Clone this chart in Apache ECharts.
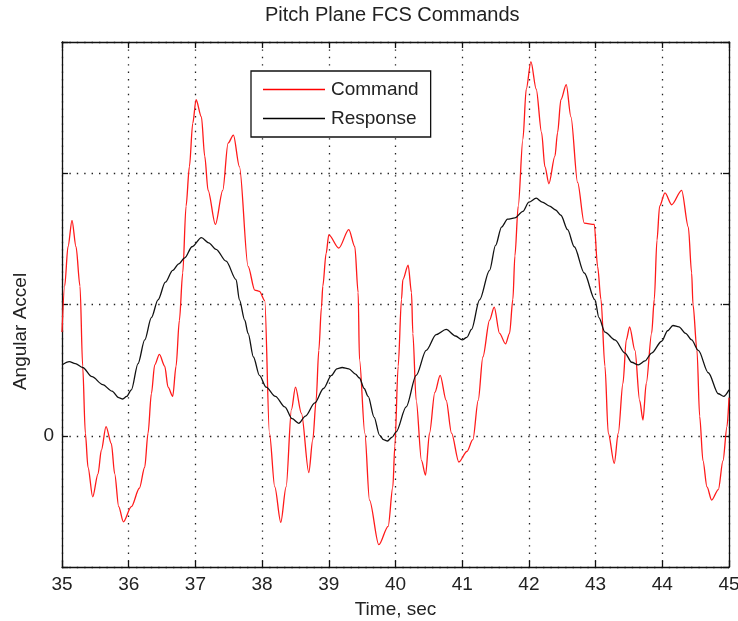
<!DOCTYPE html>
<html>
<head>
<meta charset="utf-8">
<title>Pitch Plane FCS Commands</title>
<script src="https://cdn.jsdelivr.net/npm/echarts@6/dist/echarts.min.js"></script>
<style>
  html, body { margin: 0; padding: 0; background: #fff; }
  #chart { width: 738px; height: 621px; }
</style>
</head>
<body>
<div id="chart"></div>
<script>
// Time ticks (seconds) and the only labelled level on the vertical axis
const xTicks = [35, 36, 37, 38, 39, 40, 41, 42, 43, 44, 45];
const yRange = [-1, 3];
const yLabelled = [0];

// Command signal: sample times and values
const cmdTime = [
  35.00, 35.04, 35.09, 35.15, 35.21, 35.27, 35.31, 35.35, 35.39, 35.46,
  35.54, 35.59, 35.66, 35.74, 35.79, 35.85, 35.92, 36.04, 36.16, 36.24,
  36.29, 36.34, 36.39, 36.46, 36.54, 36.59, 36.66, 36.71, 36.76, 36.81,
  36.86, 36.91, 36.96, 37.01, 37.09, 37.14, 37.19, 37.30, 37.41, 37.49,
  37.57, 37.66, 37.79, 37.89, 37.96, 38.04, 38.11, 38.19, 38.28, 38.36,
  38.44, 38.50, 38.59, 38.70, 38.76, 38.81, 38.85, 38.89, 38.91, 38.96,
  39.00, 39.15, 39.30, 39.39, 39.44, 39.46, 39.54, 39.61, 39.75, 39.89,
  39.96, 39.99, 40.04, 40.09, 40.11, 40.19, 40.24, 40.26, 40.31, 40.39,
  40.45, 40.51, 40.59, 40.67, 40.76, 40.84, 40.95, 41.07, 41.16, 41.24,
  41.31, 41.41, 41.48, 41.56, 41.65, 41.71, 41.76, 41.79, 41.84, 41.91,
  41.96, 42.03, 42.11, 42.19, 42.24, 42.30, 42.39, 42.43, 42.48, 42.56,
  42.63, 42.73, 42.83, 42.98, 43.03, 43.08, 43.14, 43.19, 43.28, 43.34,
  43.41, 43.46, 43.51, 43.59, 43.66, 43.71, 43.76, 43.84, 43.88, 43.92,
  43.96, 44.04, 44.14, 44.29, 44.39, 44.44, 44.46, 44.52, 44.56, 44.61,
  44.67, 44.74, 44.84, 44.91, 44.97, 45.00
];
const cmdValue = [
  0.79, 1.14, 1.44, 1.64, 1.44, 1.14, 0.53, 0.02, -0.24, -0.465,
  -0.29, -0.11, 0.07, -0.06, -0.29, -0.54, -0.656, -0.54, -0.40, -0.24,
  0.02, 0.32, 0.54, 0.62, 0.53, 0.37, 0.30, 0.53, 0.88, 1.24,
  1.75, 2.05, 2.38, 2.56, 2.43, 2.13, 1.87, 1.61, 1.87, 2.23,
  2.29, 2.05, 1.29, 1.11, 1.10, 1.03, 0.02, -0.39, -0.66, -0.39,
  0.20, 0.37, 0.17, -0.28, -0.03, 0.27, 0.65, 0.98, 1.14, 1.39,
  1.53, 1.43, 1.57, 1.44, 1.09, 0.58, 0.02, -0.49, -0.83, -0.69,
  -0.39, -0.08, 0.53, 1.04, 1.19, 1.30, 1.09, 0.78, 0.27, -0.19,
  -0.30, 0.02, 0.33, 0.46, 0.27, 0.02, -0.20, -0.12, -0.03, 0.27,
  0.60, 0.88, 0.98, 0.78, 0.70, 0.78, 1.04, 1.37, 1.75, 2.26,
  2.64, 2.85, 2.64, 2.31, 2.05, 1.92, 2.13, 2.31, 2.56, 2.675,
  2.43, 1.93, 1.62, 1.61, 1.29, 1.04, 0.53, 0.02, -0.21, 0.02,
  0.40, 0.73, 0.83, 0.65, 0.27, 0.12, 0.40, 0.78, 1.04, 1.49,
  1.75, 1.85, 1.76, 1.87, 1.59, 1.24, 1.00, 0.65, 0.15, -0.19,
  -0.39, -0.49, -0.41, -0.19, 0.07, 0.29
];

// Response signal: sample times and values
const rspTime = [
  35.00, 35.11, 35.20, 35.31, 35.45, 35.61, 35.75, 35.85, 35.91, 35.97,
  36.04, 36.14, 36.24, 36.34, 36.44, 36.55, 36.66, 36.75, 36.84, 36.95,
  37.09, 37.20, 37.31, 37.46, 37.61, 37.66, 37.74, 37.79, 37.87, 37.96,
  38.06, 38.20, 38.34, 38.45, 38.55, 38.65, 38.79, 38.92, 39.04, 39.12,
  39.20, 39.30, 39.40, 39.46, 39.53, 39.59, 39.68, 39.76, 39.82, 39.88,
  39.95, 40.01, 40.16, 40.31, 40.46, 40.61, 40.76, 40.90, 41.00, 41.07,
  41.14, 41.26, 41.41, 41.50, 41.59, 41.68, 41.79, 41.91, 42.00, 42.11,
  42.20, 42.31, 42.40, 42.48, 42.58, 42.68, 42.83, 42.99, 43.05, 43.14,
  43.29, 43.44, 43.54, 43.64, 43.74, 43.84, 43.99, 44.08, 44.16, 44.25,
  44.35, 44.44, 44.54, 44.69, 44.84, 44.92, 45.00
];
const rspValue = [
  0.54, 0.565, 0.55, 0.52, 0.45, 0.39, 0.34, 0.29, 0.28, 0.30,
  0.35, 0.55, 0.73, 0.90, 1.035, 1.17, 1.26, 1.31, 1.355, 1.44,
  1.51, 1.47, 1.42, 1.33, 1.19, 1.035, 0.88, 0.78, 0.60, 0.46,
  0.37, 0.30, 0.22, 0.13, 0.095, 0.15, 0.25, 0.36, 0.46, 0.51,
  0.52, 0.51, 0.47, 0.44, 0.36, 0.30, 0.14, 0.005, -0.03, -0.04,
  -0.01, 0.03, 0.22, 0.46, 0.65, 0.77, 0.81, 0.76, 0.73, 0.75,
  0.81, 1.035, 1.26, 1.45, 1.59, 1.65, 1.66, 1.71, 1.78, 1.81,
  1.78, 1.75, 1.72, 1.68, 1.57, 1.44, 1.24, 1.035, 0.90, 0.79,
  0.73, 0.63, 0.56, 0.54, 0.57, 0.63, 0.72, 0.80, 0.84, 0.83,
  0.78, 0.73, 0.65, 0.48, 0.32, 0.30, 0.35
];

const pair = (ts, vs) => ts.map((t, i) => [t, vs[i]]);

const FONT = 'Liberation Sans, Arial, Helvetica, sans-serif';
const gridLine = { show: true, lineStyle: { color: '#222', width: 1.3, type: [1.4, 6] } };
const frameLine = { show: true, onZero: false, lineStyle: { color: '#111', width: 1.3 } };
const innerTick = { show: true, inside: true, length: 6, lineStyle: { color: '#111', width: 1.3 } };

const chart = echarts.init(document.getElementById('chart'), null, { renderer: 'canvas' });

chart.setOption({
  backgroundColor: '#ffffff',
  animation: false,
  title: {
    text: 'Pitch Plane FCS Commands',
    left: 265,
    top: 5,
    padding: 0,
    textStyle: { fontFamily: FONT, fontSize: 20, fontWeight: 'normal', color: '#222' }
  },
  legend: {
    orient: 'vertical',
    left: 251,
    top: 71,
    padding: [9, 12, 9, 12],
    icon: 'rect',
    itemWidth: 62,
    itemHeight: 1.6,
    itemGap: 10,
    backgroundColor: '#fff',
    borderColor: '#111',
    borderWidth: 1.3,
    borderRadius: 0,
    textStyle: { fontFamily: FONT, fontSize: 19, color: '#222', padding: [0, 0, 0, 1] },
    data: ['Command', 'Response']
  },
  grid: {
    left: 62, right: 9, top: 42, bottom: 54,
    containLabel: false,
    outerBoundsMode: 'none'
  },
  xAxis: [
    {
      type: 'value',
      min: xTicks[0],
      max: xTicks[xTicks.length - 1],
      interval: 1,
      position: 'bottom',
      axisLine: frameLine,
      axisTick: innerTick,
      splitLine: gridLine,
      axisLabel: { fontFamily: FONT, fontSize: 19, color: '#222', margin: 8 },
      name: 'Time, sec',
      nameLocation: 'middle',
      nameGap: 33,
      nameTextStyle: { fontFamily: FONT, fontSize: 19, color: '#222' }
    },
    {
      type: 'value',
      min: xTicks[0],
      max: xTicks[xTicks.length - 1],
      interval: 1,
      position: 'top',
      axisLine: frameLine,
      axisTick: innerTick,
      splitLine: { show: false },
      axisLabel: { show: false }
    }
  ],
  yAxis: [
    {
      type: 'value',
      min: yRange[0],
      max: yRange[1],
      interval: 1,
      position: 'left',
      axisLine: frameLine,
      axisTick: innerTick,
      splitLine: gridLine,
      axisLabel: {
        fontFamily: FONT, fontSize: 19, color: '#222', margin: 8,
        formatter: v => (yLabelled.includes(v) ? String(v) : '')
      },
      name: 'Angular Accel',
      nameLocation: 'middle',
      nameGap: 32,
      nameTextStyle: { fontFamily: FONT, fontSize: 19, color: '#222', padding: [0, 54, 0, 0] }
    },
    {
      type: 'value',
      min: yRange[0],
      max: yRange[1],
      interval: 1,
      position: 'right',
      axisLine: frameLine,
      axisTick: innerTick,
      splitLine: { show: false },
      axisLabel: { show: false }
    }
  ],
  series: [
    {
      name: 'Command',
      type: 'line',
      xAxisIndex: 0,
      yAxisIndex: 0,
      data: pair(cmdTime, cmdValue),
      symbol: 'none',
      smooth: 0.3,
      smoothMonotone: 'x',
      color: '#ff0000',
      lineStyle: { color: '#ff1a1a', width: 1.3 },
      z: 3
    },
    {
      name: 'Response',
      type: 'line',
      xAxisIndex: 0,
      yAxisIndex: 0,
      data: pair(rspTime, rspValue),
      symbol: 'none',
      smooth: 0.3,
      smoothMonotone: 'x',
      color: '#000000',
      lineStyle: { color: '#111', width: 1.3 },
      z: 4
    }
  ]
});
</script>
</body>
</html>
